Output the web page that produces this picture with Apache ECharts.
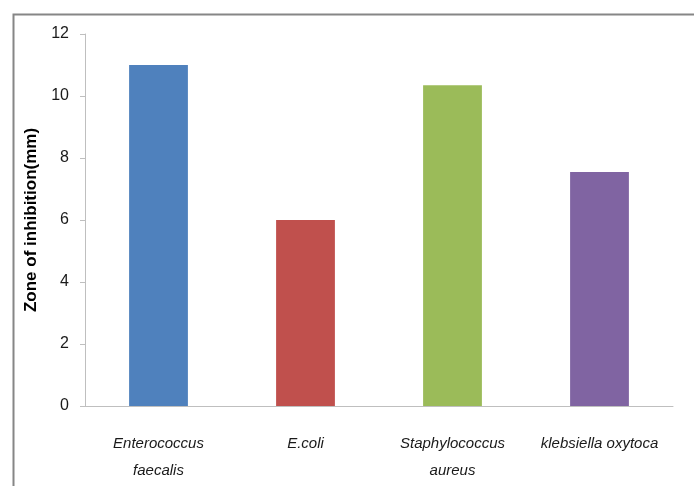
<!DOCTYPE html>
<html>
<head>
<meta charset="utf-8">
<style>
  html, body { margin: 0; padding: 0; background: #fff; }
  #chart { width: 694px; height: 486px; }
</style>
<script src="https://cdn.jsdelivr.net/npm/echarts@6/dist/echarts.min.js"></script>
</head>
<body>
<div id="chart"></div>
<script>
// Organisms tested and their measured zones of inhibition (mm)
const categories = ['Enterococcus\nfaecalis', 'E.coli', 'Staphylococcus\naureus', 'klebsiella oxytoca'];
const zoneValues = [11, 6, 10.35, 7.55];
const barColors = ['#4F81BD', '#C0504D', '#9BBB59', '#8064A2'];
const yTicks = { min: 0, max: 12, interval: 2 };

const font = "'Liberation Sans', sans-serif";

const chart = echarts.init(document.getElementById('chart'), null, { renderer: 'canvas' });

chart.setOption({
  animation: false,
  backgroundColor: '#ffffff',
  graphic: [{
    type: 'rect',
    left: 11, top: 12,
    shape: { width: 720, height: 520 },
    style: { fill: 'none', stroke: '#868686', lineWidth: 2 },
    silent: true
  }],
  grid: { left: 85, right: 21, top: 34, bottom: 80 },
  xAxis: {
    type: 'category',
    data: categories,
    axisLine: { lineStyle: { color: '#BFBFBF', width: 1 } },
    axisTick: { show: false },
    axisLabel: {
      interval: 0,
      color: '#1a1a1a',
      fontFamily: font,
      fontStyle: 'italic',
      fontSize: 15,
      lineHeight: 27,
      margin: 24
    }
  },
  yAxis: {
    type: 'value',
    min: yTicks.min, max: yTicks.max, interval: yTicks.interval,
    name: 'Zone of inhibition(mm)',
    nameLocation: 'middle',
    nameGap: 45,
    nameTextStyle: { color: '#000', fontFamily: font, fontWeight: 'bold', fontSize: 17 },
    axisLine: { show: true, lineStyle: { color: '#BFBFBF', width: 1 } },
    axisTick: { show: true, inside: false, length: 5, lineStyle: { color: '#BFBFBF' } },
    splitLine: { show: false },
    axisLabel: { color: '#1a1a1a', fontFamily: font, fontSize: 16, margin: 16 }
  },
  series: [{
    type: 'bar',
    data: zoneValues.map((v, i) => ({ value: v, itemStyle: { color: barColors[i] } })),
    barWidth: '40%'
  }]
});
</script>
</body>
</html>
